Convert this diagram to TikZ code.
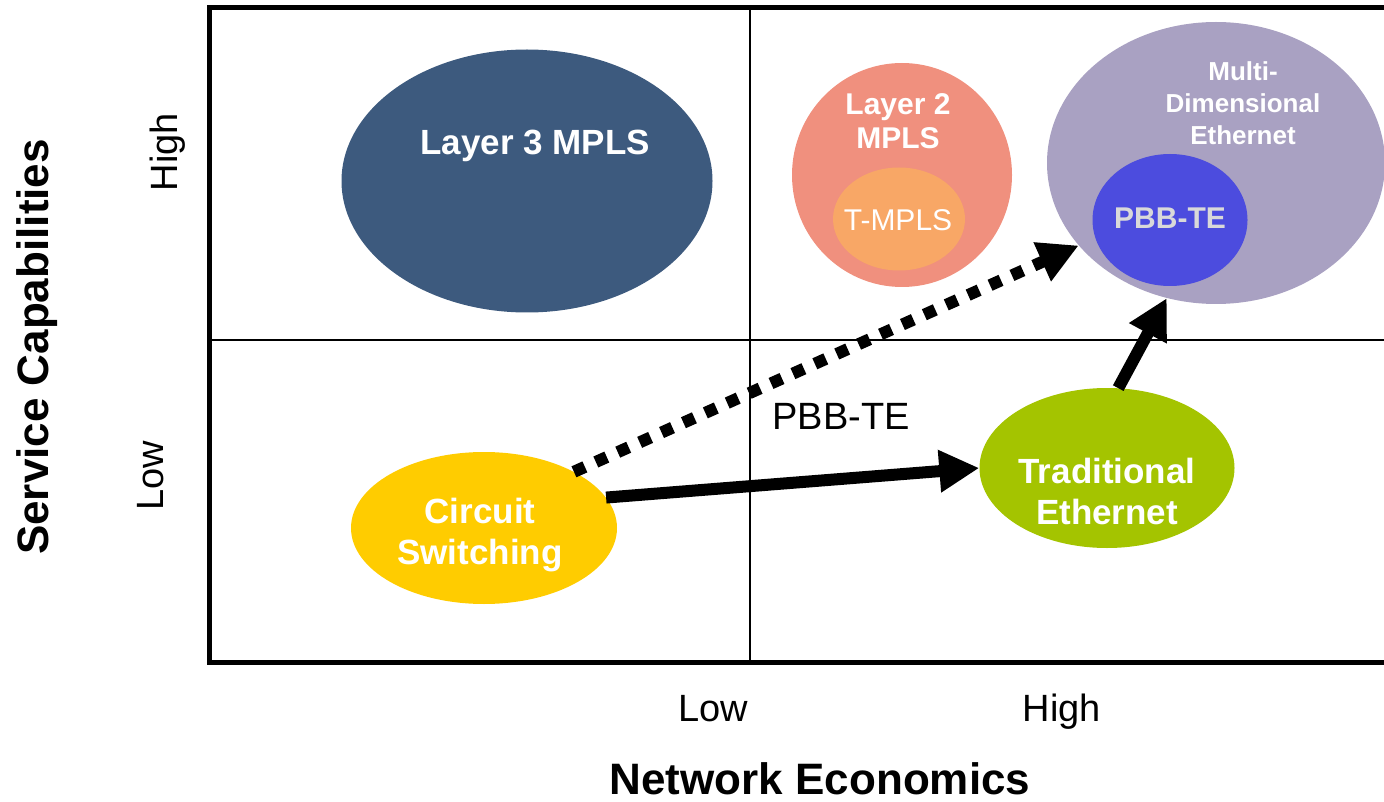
\documentclass[tikz,border=0pt]{standalone}
\usepackage{fontspec}
\setmainfont{Liberation Sans}
\usetikzlibrary{shapes.geometric,arrows.meta}
\definecolor{lthree}{HTML}{3D5A7E}
\definecolor{ltwo}{HTML}{F0907E}
\definecolor{tmpls}{HTML}{F8A766}
\definecolor{mde}{HTML}{A9A1C2}
\definecolor{pbb}{HTML}{4C4CDE}
\definecolor{circ}{HTML}{FFCC00}
\definecolor{trad}{HTML}{A4C400}
\begin{document}
\begin{tikzpicture}[x=1pt,y=-1pt,
  blob/.style={ellipse, inner sep=0pt, draw=none},
  wlab/.style={text=white, font=\bfseries, align=center, inner sep=0pt},
  plain/.style={text=black, align=center, inner sep=0pt},
  bigarrow/.style={line width=12pt, -{Triangle[length=40pt,width=40pt]}}]
\useasboundingbox (0,0) rectangle (1384,802);
% grid
\draw[line width=2pt] (750,8) -- (750,662);
\draw[line width=2pt] (209,340) -- (1390,340);
\draw[line width=5pt] (1390,8) -- (209,8) -- (209,662) -- (1390,662);
% ellipses
\node[blob, fill=lthree, minimum width=371pt, minimum height=263pt] (l3) at (527,181) {};
\node[blob, fill=ltwo, minimum width=220pt, minimum height=224pt] (l2) at (902,175) {};
\node[blob, fill=tmpls, minimum width=132pt, minimum height=103pt] (tm) at (899,219) {};
\node[blob, fill=mde, minimum width=338pt, minimum height=282pt] (md) at (1216,163) {};
\node[blob, fill=pbb, minimum width=155pt, minimum height=132pt] (pb) at (1170,220) {};
\node[blob, fill=circ, minimum width=266pt, minimum height=152pt] (cs) at (484,528) {};
\node[blob, fill=trad, minimum width=255pt, minimum height=160pt] (te) at (1107,468) {};
% labels in ellipses
\node[wlab, font=\fontsize{35}{41}\selectfont\bfseries] (l3t) at (535,146) {Layer 3 MPLS};
\node[wlab, font=\fontsize{30}{34}\selectfont\bfseries] (l2t) at (898,121) {Layer 2\\MPLS};
\node[wlab, font=\fontsize{30}{34}\selectfont] (tmt) at (898,220) {T-MPLS};
\node[wlab, font=\fontsize{26}{32}\selectfont\bfseries] (mdt) at (1243,103) {Multi-\\Dimensional\\Ethernet};
\node[wlab, text=black!15, font=\fontsize{30}{34}\selectfont\bfseries] (pbt) at (1170,218) {PBB-TE};
\node[wlab, font=\fontsize{35}{41}\selectfont\bfseries] (cst) at (480,535) {Circuit\\Switching};
\node[wlab, font=\fontsize{35}{41}\selectfont\bfseries] (tet) at (1107,491) {Traditional\\Ethernet};
% arrows
\draw[line width=12pt, dash pattern=on 12pt off 12pt, -{Triangle[length=40pt,width=40pt]}] (cs.32) -- (md.211);
\draw[bigarrow] (cs.14) -- (te.west);
\draw[bigarrow] (te.82) -- (md.250);
% axis texts
\node[plain, font=\fontsize{38}{44}\selectfont] (pbl) at (841,416) {PBB-TE};
\node[plain, anchor=base, font=\fontsize{38}{44}\selectfont] (xlow) at (713,721) {Low};
\node[plain, anchor=base, font=\fontsize{38}{44}\selectfont] (xhigh) at (1062,721) {High};
\node[plain, font=\fontsize{44}{50}\selectfont\bfseries] (xlab) at (820,779) {Network Economics};
\node[plain, rotate=90, anchor=base, font=\fontsize{38}{44}\selectfont] (yhigh) at (177,152) {High};
\node[plain, rotate=90, anchor=base, font=\fontsize{38}{44}\selectfont] (ylow) at (163,476) {Low};
\node[plain, rotate=90, font=\fontsize{44}{50}\selectfont\bfseries] (ylab) at (37,347) {Service Capabilities};
\end{tikzpicture}
\end{document}
